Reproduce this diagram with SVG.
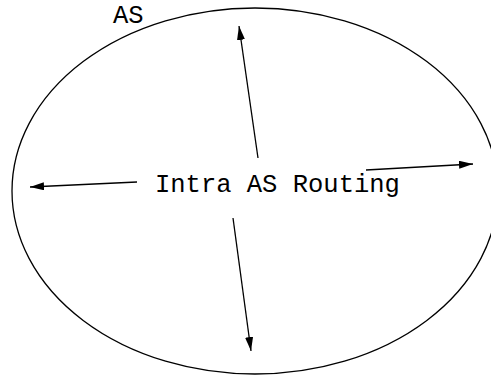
<svg xmlns="http://www.w3.org/2000/svg" width="491" height="375" viewBox="0 0 491 375">
  <style>
    .lbl { font-family: "Liberation Mono", "Courier New", monospace; font-size: 25.5px; fill: #000; }
    .edge { stroke: #000; stroke-width: 1.3; fill: none; marker-end: url(#head); }
  </style>
  <defs>
    <marker id="head" viewBox="0 0 14 8" refX="14" refY="4" markerWidth="14" markerHeight="8" markerUnits="userSpaceOnUse" orient="auto">
      <path d="M0,0 L14,4 L0,8 Z" fill="#000"/>
    </marker>
  </defs>
  <rect width="491" height="375" fill="#fff"/>
  <g id="as-boundary">
    <ellipse cx="255" cy="191" rx="243" ry="183" fill="none" stroke="#000" stroke-width="1.3"/>
    <text class="lbl" x="113" y="23">AS</text>
  </g>
  <g id="intra-as-routing">
    <text class="lbl" x="155" y="192">Intra AS Routing</text>
  </g>
  <g id="connectors">
    <line class="edge" x1="258" y1="158" x2="239" y2="26"/>
    <line class="edge" x1="137" y1="182" x2="30" y2="187"/>
    <line class="edge" x1="366" y1="170" x2="473" y2="164"/>
    <line class="edge" x1="233" y1="218" x2="251" y2="351"/>
  </g>
</svg>
